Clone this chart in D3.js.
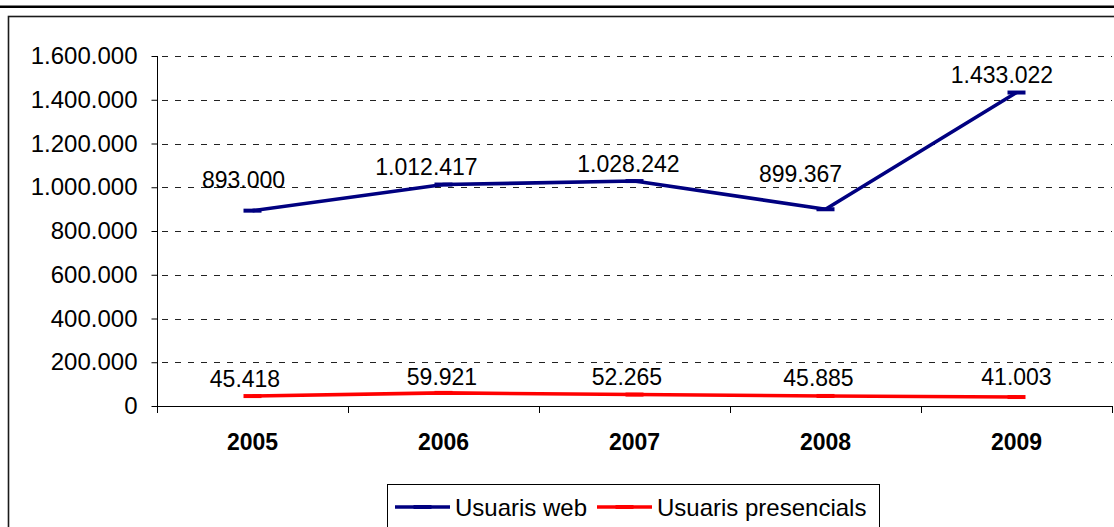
<!DOCTYPE html>
<html>
<head>
<meta charset="utf-8">
<script src="https://cdn.jsdelivr.net/npm/d3@7"></script>
<style>
  html, body { margin: 0; padding: 0; background: #fff; }
  svg { display: block; font-family: "Liberation Sans", Arial, sans-serif; }
</style>
</head>
<body>
<svg id="chart" width="1114" height="527"></svg>
<script>
// Users per year
const years = ["2005", "2006", "2007", "2008", "2009"];
const webUsers = [893000, 1012417, 1028242, 899367, 1433022];
const onsiteUsers = [45418, 59921, 52265, 45885, 41003];
const yTicks = [0, 200000, 400000, 600000, 800000, 1000000, 1200000, 1400000, 1600000];
const seriesNames = ["Usuaris web", "Usuaris presencials"];

// Hand-placed label nudges (dx, dy from the point)
const webLabelNudge = [[-9, -23], [-17, -9.5], [-6, -9], [-25, -27], [-14.5, -9.5]];
const onsiteLabelNudge = [[-7.5, -9], [-1.5, -8], [-7.5, -9.5], [-7, -10], [0, -12]];

const svg = d3.select("#chart");
const W = 1114, H = 527;
const plot = { left: 157, right: 1112, top: 56, bottom: 406 };
const navy = "#000080", red = "#ff0000";

const locale = d3.formatLocale({ decimal: ",", thousands: ".", grouping: [3], currency: ["", " €"] });
const fmt = locale.format(",d");

const x = d3.scaleBand().domain(years).range([plot.left, plot.right]).padding(0);
const cx = d => x(d) + x.bandwidth() / 2;
const y = d3.scaleLinear().domain([0, 1600000]).range([plot.bottom, plot.top]);

// Heavy rule at the top
svg.append("line").attr("x1", 0).attr("x2", W).attr("y1", 6.7).attr("y2", 6.7)
  .attr("stroke", "#000").attr("stroke-width", 2.4);

// Chart frame
svg.append("rect").attr("x", 8.5).attr("y", 16.5).attr("width", W + 20).attr("height", H)
  .attr("fill", "none").attr("stroke", "#1a1a1a").attr("stroke-width", 1.6);

// Horizontal gridlines
svg.append("g").selectAll("line").data(yTicks.filter(t => t > 0)).join("line")
  .attr("x1", plot.left + 5).attr("x2", plot.right)
  .attr("y1", d => Math.round(y(d)) + 0.5).attr("y2", d => Math.round(y(d)) + 0.5)
  .attr("stroke", "#222").attr("stroke-width", 1).attr("stroke-dasharray", "6,7");

// Y axis
const yAxis = svg.append("g").attr("transform", `translate(${plot.left + 0.5},0)`)
  .call(d3.axisLeft(y).tickValues(yTicks).tickFormat(fmt).tickSize(6).tickPadding(14));
yAxis.select(".domain").attr("stroke", "#000").attr("d", `M0,${plot.top}V${plot.bottom}`);
yAxis.selectAll(".tick line").attr("stroke", "#000");
yAxis.selectAll(".tick text").attr("font-size", 24).attr("fill", "#000")
  .attr("font-family", "'Liberation Sans', Arial, sans-serif");

// X axis line and category boundary ticks
const xg = svg.append("g");
xg.append("line").attr("x1", plot.left).attr("x2", plot.right)
  .attr("y1", plot.bottom + 0.5).attr("y2", plot.bottom + 0.5).attr("stroke", "#000");
const bounds = years.map(d => x(d)).concat([x(years[years.length - 1]) + x.bandwidth()]);
xg.selectAll("line.tk").data(bounds).join("line").attr("class", "tk")
  .attr("x1", d => Math.round(d) + 0.5).attr("x2", d => Math.round(d) + 0.5)
  .attr("y1", plot.bottom).attr("y2", plot.bottom + 7).attr("stroke", "#000");
xg.selectAll("text").data(years).join("text")
  .attr("x", d => cx(d)).attr("y", 450).attr("text-anchor", "middle")
  .attr("font-size", 23).attr("font-weight", "bold").attr("fill", "#000").text(d => d);

// Series lines with dash markers and value labels
function drawSeries(values, color, nudge) {
  const pts = years.map((d, i) => [cx(d), y(values[i])]);
  svg.append("path").attr("d", d3.line()(pts)).attr("fill", "none")
    .attr("stroke", color).attr("stroke-width", 3.6).attr("stroke-linejoin", "round");
  svg.append("g").selectAll("rect").data(pts).join("rect")
    .attr("x", p => p[0] - 9).attr("y", p => p[1] - 2).attr("width", 18).attr("height", 4)
    .attr("fill", color);
  svg.append("g").selectAll("text").data(values).join("text")
    .attr("x", (v, i) => pts[i][0] + nudge[i][0])
    .attr("y", (v, i) => pts[i][1] + nudge[i][1])
    .attr("text-anchor", "middle").attr("font-size", 23).attr("fill", "#000")
    .text(v => fmt(v));
}
drawSeries(webUsers, navy, webLabelNudge);
drawSeries(onsiteUsers, red, onsiteLabelNudge);

// Legend
const lg = svg.append("g");
lg.append("rect").attr("x", 387.5).attr("y", 484.5).attr("width", 492).attr("height", 70)
  .attr("fill", "#fff").attr("stroke", "#000").attr("stroke-width", 1);
const legendItems = [
  { name: seriesNames[0], color: navy, x0: 395 },
  { name: seriesNames[1], color: red, x0: 597 }
];
legendItems.forEach(it => {
  lg.append("line").attr("x1", it.x0).attr("x2", it.x0 + 55).attr("y1", 507).attr("y2", 507)
    .attr("stroke", it.color).attr("stroke-width", 3.6);
  lg.append("rect").attr("x", it.x0 + 18.5).attr("y", 505).attr("width", 18).attr("height", 4)
    .attr("fill", it.color);
  lg.append("text").attr("x", it.x0 + 60).attr("y", 515.5).attr("font-size", 24)
    .attr("fill", "#000").text(it.name);
});
</script>
</body>
</html>
